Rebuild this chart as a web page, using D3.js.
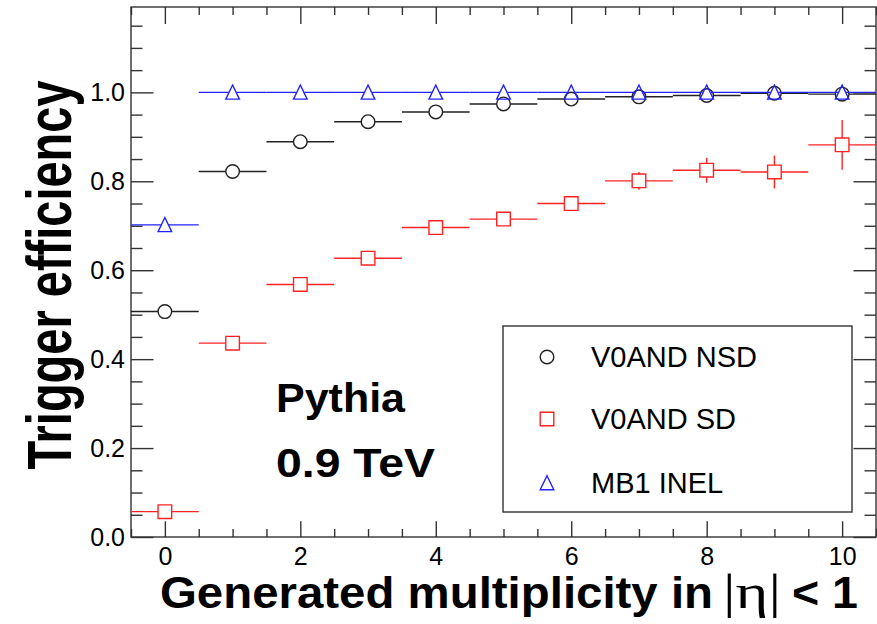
<!DOCTYPE html>
<html>
<head>
<meta charset="utf-8">
<script src="https://cdn.jsdelivr.net/npm/d3@7"></script>
<style>
  body { margin: 0; background: #fff; }
  svg { display: block; font-family: "Liberation Sans", Arial, sans-serif; }
</style>
</head>
<body>
<svg id="chart" width="877" height="624"></svg>
<script>
// values
const mult = [0, 1, 2, 3, 4, 5, 6, 7, 8, 9, 10];
const effNSD = [0.507, 0.822, 0.889, 0.934, 0.956, 0.974, 0.985, 0.990, 0.993, 0.998, 0.996];
const errNSD = [0.002, 0.002, 0.002, 0.002, 0.002, 0.002, 0.002, 0.002, 0.002, 0.002, 0.002];
const effSD = [0.057, 0.436, 0.568, 0.627, 0.696, 0.715, 0.750, 0.801, 0.825, 0.821, 0.882];
const errSD = [0.003, 0.004, 0.005, 0.006, 0.007, 0.009, 0.010, 0.020, 0.028, 0.037, 0.056];
const effINEL = [0.702, 1, 1, 1, 1, 1, 1, 1, 1, 1, 1];
const errINEL = [0, 0, 0, 0, 0, 0, 0, 0, 0, 0, 0];
const xMajor = [0, 2, 4, 6, 8, 10];
const yMajor = [0, 0.2, 0.4, 0.6, 0.8, 1.0];
const legendLabels = ["V0AND NSD", "V0AND SD", "MB1 INEL"];

var svg = d3.select("#chart");

const padL = 131, padR = 876, padT = 7, padB = 537;
const x = d3.scaleLinear().domain([-0.5, 10.5]).range([padL, padR]);
const y = d3.scaleLinear().domain([0, 1.192]).range([padB, padT]);

const axisColor = "#333";

// minor tick values
const xMinor = d3.range(-0.5, 10.51, 0.5).filter(v => Math.abs(v - Math.round(v / 2) * 2) > 1e-6);
const yMinor = d3.range(0, 1.19, 0.05).filter(v => Math.abs(v * 5 - Math.round(v * 5)) > 1e-6);

function styleAxis(g) {
	g.select(".domain").remove();
	g.selectAll("line").attr("stroke", axisColor).attr("stroke-width", 1.4);
	g.selectAll("text").attr("fill", "#000").attr("font-size", 25)
		.attr("font-family", "Liberation Sans, Arial, sans-serif");
}

// bottom
svg.append("g").attr("transform", `translate(0,${padB})`)
	.call(d3.axisBottom(x).tickValues(xMinor).tickSize(-8).tickFormat(""))
	.call(styleAxis);
svg.append("g").attr("transform", `translate(0,${padB})`)
	.call(d3.axisBottom(x).tickValues(xMajor).tickSize(-15.7).tickPadding(10).tickFormat(d3.format("d")))
	.call(styleAxis);
// top
svg.append("g").attr("transform", `translate(0,${padT})`)
	.call(d3.axisTop(x).tickValues(xMinor).tickSize(-8).tickFormat(""))
	.call(styleAxis);
svg.append("g").attr("transform", `translate(0,${padT})`)
	.call(d3.axisTop(x).tickValues(xMajor).tickSize(-17).tickFormat(""))
	.call(styleAxis);
// left
svg.append("g").attr("transform", `translate(${padL},0)`)
	.call(d3.axisLeft(y).tickValues(yMinor).tickSize(-11.5).tickFormat(""))
	.call(styleAxis);
svg.append("g").attr("transform", `translate(${padL},0)`)
	.call(d3.axisLeft(y).tickValues(yMajor).tickSize(-22.5).tickPadding(6).tickFormat(d3.format(".1f")))
	.call(styleAxis);
// right
svg.append("g").attr("transform", `translate(${padR},0)`)
	.call(d3.axisRight(y).tickValues(yMinor).tickSize(-11.5).tickFormat(""))
	.call(styleAxis);
svg.append("g").attr("transform", `translate(${padR},0)`)
	.call(d3.axisRight(y).tickValues(yMajor).tickSize(-22.5).tickFormat(""))
	.call(styleAxis);

// frame
svg.append("rect")
	.attr("x", padL).attr("y", padT)
	.attr("width", padR - padL).attr("height", padB - padT)
	.attr("fill", "none").attr("stroke", axisColor).attr("stroke-width", 1.4);

// markers
const R = 6.8;
function markerPath(shape, cx, cy) {
	if (shape === "circle") {
		return `M ${cx + R},${cy} A ${R},${R} 0 1,1 ${cx - R},${cy} A ${R},${R} 0 1,1 ${cx + R},${cy} Z`;
	} else if (shape === "square") {
		return `M ${cx - R},${cy - R} L ${cx + R},${cy - R} L ${cx + R},${cy + R} L ${cx - R},${cy + R} Z`;
	} else {
		return `M ${cx},${cy - R - 0.5} L ${cx + R},${cy + R} L ${cx - R},${cy + R} Z`;
	}
}

const series = [
	{ name: legendLabels[0], vals: effNSD, errs: errNSD, color: "#222", shape: "circle", gap: R },
	{ name: legendLabels[1], vals: effSD, errs: errSD, color: "#f22", shape: "square", gap: R },
	{ name: legendLabels[2], vals: effINEL, errs: errINEL, color: "#22f", shape: "triangle", gap: 4 }
];

for (let s of series) {
	const g = svg.append("g");
	const pts = mult.map((m, i) => ({ m: m, v: s.vals[i], e: s.errs[i] }));
	// horizontal bin bars, split round the marker
	g.selectAll(".hl").data(pts).enter().append("path")
		.attr("d", d => {
			const cx = x(d.m), cy = y(d.v);
			return `M ${x(d.m - 0.5)},${cy} L ${cx - s.gap},${cy} M ${cx + s.gap},${cy} L ${x(d.m + 0.5)},${cy}`;
		})
		.attr("stroke", s.color).attr("stroke-width", 1.4).attr("fill", "none");
	// vertical error bars, only where they poke out of the marker
	g.selectAll(".vl").data(pts.filter(d => y(d.v - d.e) - y(d.v) > R)).enter().append("path")
		.attr("d", d => {
			const cx = x(d.m), cy = y(d.v);
			return `M ${cx},${y(d.v + d.e)} L ${cx},${cy - R} M ${cx},${cy + R} L ${cx},${y(d.v - d.e)}`;
		})
		.attr("stroke", s.color).attr("stroke-width", 1.4).attr("fill", "none");
	g.selectAll(".mk").data(pts).enter().append("path")
		.attr("d", d => markerPath(s.shape, x(d.m), y(d.v)))
		.attr("fill", "none").attr("stroke", s.color).attr("stroke-width", 1.4);
}

// legend
const legend = svg.append("g");
legend.append("rect")
	.attr("x", 503).attr("y", 326).attr("width", 349).attr("height", 186)
	.attr("fill", "#fff").attr("stroke", axisColor).attr("stroke-width", 1.4);
const legendRows = [357, 419, 483];
series.forEach((s, i) => {
	legend.append("path")
		.attr("d", markerPath(s.shape, 547, legendRows[i]))
		.attr("fill", "none").attr("stroke", s.color).attr("stroke-width", 1.4);
	legend.append("text")
		.attr("x", 591).attr("y", legendRows[i] + 10)
		.attr("font-size", 29).attr("fill", "#000")
		.text(s.name);
});

// Pythia label
svg.append("text").attr("x", 276).attr("y", 412)
	.attr("font-size", 40).attr("font-weight", "bold")
	.attr("textLength", 129).attr("lengthAdjust", "spacingAndGlyphs")
	.text("Pythia");
svg.append("text").attr("x", 276).attr("y", 477)
	.attr("font-size", 40).attr("font-weight", "bold")
	.attr("textLength", 159).attr("lengthAdjust", "spacingAndGlyphs")
	.text("0.9 TeV");

// axis titles
svg.append("text").attr("x", 160).attr("y", 608)
	.attr("font-size", 45).attr("font-weight", "bold")
	.attr("textLength", 553).attr("lengthAdjust", "spacingAndGlyphs")
	.text("Generated multiplicity in");
svg.append("text").attr("x", 723).attr("y", 608)
	.attr("font-size", 48).attr("font-family", "Liberation Serif, serif")
	.attr("textLength", 58).attr("lengthAdjust", "spacingAndGlyphs")
	.text("|\u03b7|");
svg.append("text").attr("x", 792).attr("y", 608)
	.attr("font-size", 45).attr("font-weight", "bold")
	.attr("textLength", 66).attr("lengthAdjust", "spacingAndGlyphs")
	.text("< 1");

svg.append("text")
	.attr("transform", "translate(71,275) rotate(-90) scale(1,1.32)")
	.attr("text-anchor", "middle")
	.attr("font-size", 47).attr("font-weight", "bold")
	.text("Trigger efficiency");
</script>
</body>
</html>
